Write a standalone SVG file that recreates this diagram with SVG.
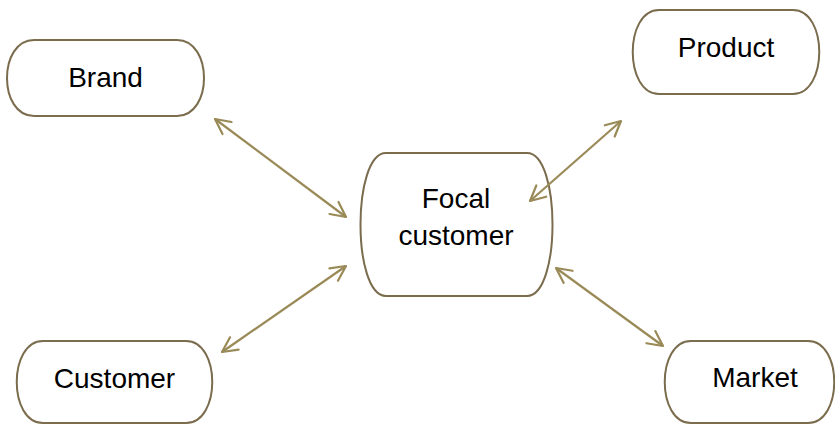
<svg xmlns="http://www.w3.org/2000/svg" width="835" height="425" viewBox="0 0 835 425">
<style>
.node{fill:#ffffff;stroke:#7a6c4d;stroke-width:2}
.lbl{font-family:"Liberation Sans",Arial,sans-serif;font-size:28px;fill:#000;text-anchor:middle}
.conn{stroke:#998a57;stroke-width:2.2;fill:none;marker-start:url(#ah);marker-end:url(#ah)}
</style>
<defs>
<marker id="ah" viewBox="0 0 20 20" refX="18" refY="10" markerWidth="20" markerHeight="20" markerUnits="userSpaceOnUse" orient="auto-start-reverse">
<path d="M3,2.5 L18,10 L3,17.5" fill="none" stroke="#998a57" stroke-width="2.2" stroke-linecap="round" stroke-linejoin="round"/>
</marker>
</defs>
<g id="brand">
<path class="node" d="M34,40 H177 C213,40 213,116 177,116 H34 C-2,116 -2,40 34,40 Z"/>
<text class="lbl" x="105.5" y="87">Brand</text>
</g>
<g id="product">
<path class="node" d="M659,10 H793 C828,10 828,94 793,94 H659 C624,94 624,10 659,10 Z"/>
<text class="lbl" x="726" y="57">Product</text>
</g>
<g id="focal">
<path class="node" d="M386,153 H527 C561,153 561,296 527,296 H386 C352,296 352,153 386,153 Z"/>
<text class="lbl" x="456" y="208">Focal</text>
<text class="lbl" x="456" y="245">customer</text>
</g>
<g id="customer">
<path class="node" d="M43,341 H186 C221,341 221,423 186,423 H43 C8,423 8,341 43,341 Z"/>
<text class="lbl" x="114.5" y="388">Customer</text>
</g>
<g id="market">
<path class="node" d="M691,341 H808 C843,341 843,423 808,423 H691 C656,423 656,341 691,341 Z"/>
<text class="lbl" x="755" y="387">Market</text>
</g>
<g id="connectors">
<line class="conn" x1="215" y1="119" x2="346" y2="217"/>
<line class="conn" x1="621" y1="121" x2="530" y2="201"/>
<line class="conn" x1="346" y1="266" x2="222" y2="352"/>
<line class="conn" x1="556" y1="268" x2="663" y2="346"/>
</g>
</svg>
